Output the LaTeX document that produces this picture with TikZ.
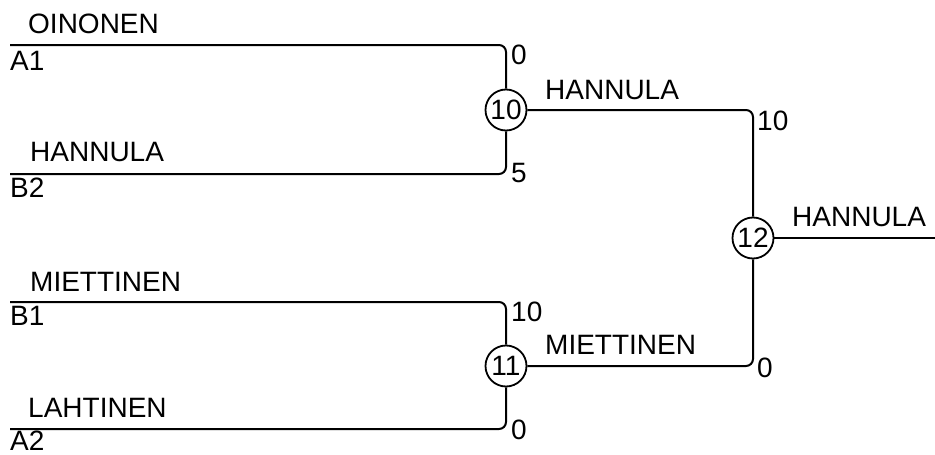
\documentclass[tikz,border=0pt]{standalone}
\usepackage{fontspec}
\setmainfont{Liberation Sans}
\begin{document}
\begin{tikzpicture}[x=1pt,y=-1pt,
  wire/.style={line width=2pt, rounded corners=7pt},
  match/.style={circle, draw, line width=1.8pt, minimum size=41pt, inner sep=0pt, font=\fontsize{28}{28}\selectfont},
  lab/.style={anchor=west, inner sep=0pt, font=\fontsize{28}{28}\selectfont},
  num/.style={anchor=west, inner sep=0pt, font=\fontsize{28}{28}\selectfont}]
\useasboundingbox (0,0) rectangle (935,455);
% start points
\coordinate (sA1) at (10,45);
\coordinate (sB2) at (10,174);
\coordinate (sB1) at (10,302);
\coordinate (sA2) at (10,429);
\coordinate (fin) at (935,238);
% matches
\node[match] (m10) at (506,110) {10};
\node[match] (m11) at (506,366) {11};
\node[match] (m12) at (753,238) {12};
% wires
\draw[wire] (sA1) -| (m10);
\draw[wire] (sB2) -| (m10);
\draw[wire] (sB1) -| (m11);
\draw[wire] (sA2) -| (m11);
\draw[wire] (m10) -| (m12);
\draw[wire] (m11) -| (m12);
\draw[wire] (m12) -- (fin);
% player labels
\node[lab] (tOin) at (28,24) {OINONEN};
\node[lab] (tA1) at (10,61) {A1};
\node[lab] (tHan1) at (30,152) {HANNULA};
\node[lab] (tB2) at (10,188) {B2};
\node[lab] (tMie1) at (30,282) {MIETTINEN};
\node[lab] (tB1) at (10,316) {B1};
\node[lab] (tLah) at (28,408) {LAHTINEN};
\node[lab] (tA2) at (10,441.2) {A2};
\node[lab] (tHan2) at (545,90) {HANNULA};
\node[lab] (tMie2) at (545,345) {MIETTINEN};
\node[lab] (tHan3) at (792,217) {HANNULA};
% scores
\node[num] (s1) at (511,55) {0};
\node[num] (s2) at (511,173) {5};
\node[num] (s3) at (511,312) {10};
\node[num] (s4) at (511,430) {0};
\node[num] (s5) at (757,121) {10};
\node[num] (s6) at (757,368) {0};
\end{tikzpicture}
\end{document}
